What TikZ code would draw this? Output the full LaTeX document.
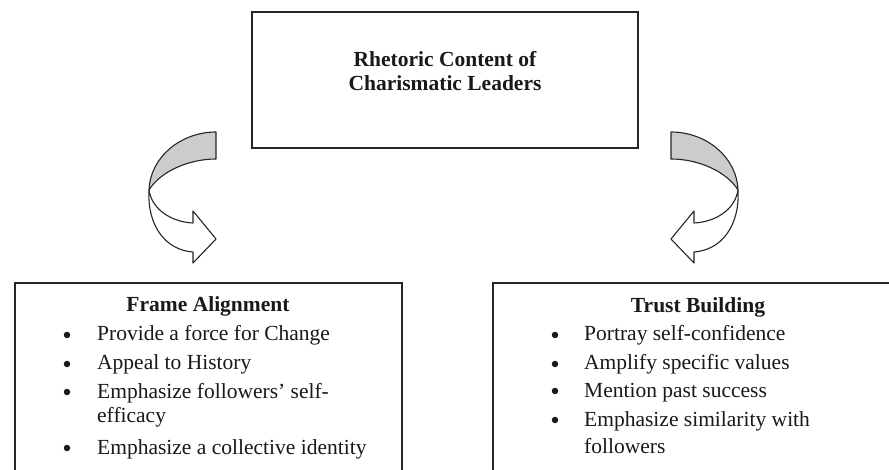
\documentclass[tikz,border=0pt]{standalone}
\usepackage{fontspec}
\setmainfont{Liberation Serif}
\begin{document}
\begin{tikzpicture}[x=1pt,y=-1pt,
  boxline/.style={draw=black!85, line width=1.2pt},
  txt/.style={font=\fontsize{21.5}{24}\selectfont, inner sep=0pt, anchor=base west, text=black!90},
  ttl/.style={font=\fontsize{21.5}{24}\selectfont\bfseries, inner sep=0pt, anchor=base, text=black!90},
  bul/.style={circle, fill=black!90, inner sep=0pt, minimum size=6.5pt},
  band/.style={draw=black!85, line width=1.1pt, fill=black!20, line join=round},
  front/.style={draw=black!85, line width=1.1pt, fill=white, line join=round}]
\useasboundingbox (0,0) rectangle (889,470);
\fill[white] (0,0) rectangle (889,470);

% top box
\node[boxline, minimum width=386pt, minimum height=136pt, inner sep=0pt] (top) at (445,80) {};
\node[ttl] (t1) at (445,67) {Rhetoric Content of};
\node[ttl] (t2) at (445,91) {Charismatic Leaders};

% curved arrows
\begin{scope}
  \path[band] (216,132) .. controls (180,132) and (150,158) .. (149,190)
     .. controls (160,172) and (188,159) .. (216,159) -- cycle;
  \path[front] (149,190) .. controls (152,210) and (172,222) .. (193,223)
     -- (193,211) -- (216,239) -- (193,263) -- (193,252)
     .. controls (165,250) and (147,225) .. (149,190) -- cycle;
\end{scope}
\begin{scope}[xshift=887pt, xscale=-1]
  \path[band] (216,132) .. controls (180,132) and (150,158) .. (149,190)
     .. controls (160,172) and (188,159) .. (216,159) -- cycle;
  \path[front] (149,190) .. controls (152,210) and (172,222) .. (193,223)
     -- (193,211) -- (216,239) -- (193,263) -- (193,252)
     .. controls (165,250) and (147,225) .. (149,190) -- cycle;
\end{scope}

% left box
\draw[boxline] (15,472) -- (15,283) -- (402,283) -- (402,472);
\node[ttl] (fa) at (208,312) {Frame Alignment};
\node[bul] (fb1) at (67,335) {};
\node[bul] (fb2) at (67,364) {};
\node[bul] (fb3) at (67,392) {};
\node[bul] (fb4) at (67,448) {};
\node[txt] (fa1) at (97,341) {Provide a force for Change};
\node[txt] (fa2) at (97,370) {Appeal to History};
\node[txt] (fa3) at (97,398) {Emphasize followers’ self-};
\node[txt] (fa3b) at (97,422) {efficacy};
\node[txt] (fa4) at (97,454) {Emphasize a collective identity};

% right box
\draw[boxline] (493,472) -- (493,283) -- (891,283);
\node[ttl] (tb) at (698,313) {Trust Building};
\node[bul] (tbb1) at (555,335) {};
\node[bul] (tbb2) at (555,364) {};
\node[bul] (tbb3) at (555,391) {};
\node[bul] (tbb4) at (555,420) {};
\node[txt] (tb1) at (584,341) {Portray self-confidence};
\node[txt] (tb2) at (584,370) {Amplify specific values};
\node[txt] (tb3) at (584,397) {Mention past success};
\node[txt] (tb4) at (584,426) {Emphasize similarity with};
\node[txt] (tb4b) at (584,453) {followers};
\end{tikzpicture}
\end{document}
